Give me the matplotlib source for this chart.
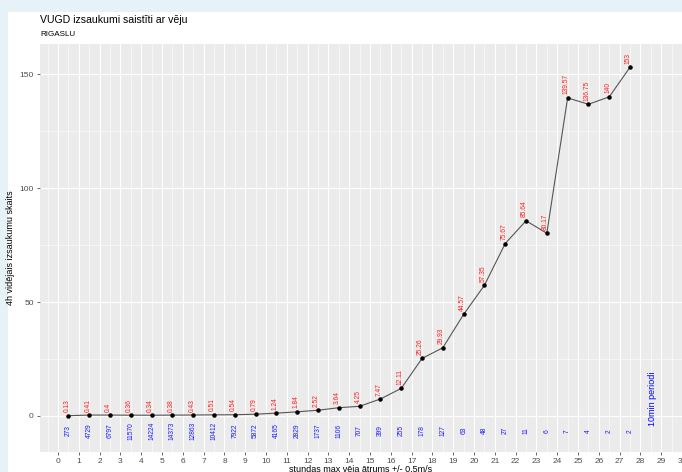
import matplotlib
matplotlib.use('Agg')
import matplotlib.pyplot as plt
from matplotlib.patches import Rectangle
from matplotlib.ticker import MultipleLocator

plt.rcParams['font.family'] = ['Liberation Sans', 'DejaVu Sans']

# wind speed bins (centre of each 1 m/s bin)
wind_speed = [i + 0.5 for i in range(28)]

# average calls per 4h period
avg_calls = [0.13, 0.41, 0.4, 0.36, 0.34, 0.38, 0.43, 0.51, 0.54, 0.79,
             1.24, 1.84, 2.52, 3.64, 4.25, 7.47, 12.11, 25.26, 29.93, 44.57,
             57.35, 75.67, 85.64, 80.17, 139.57, 136.75, 140, 153]
avg_labels = ['0.13', '0.41', '0.4', '0.36', '0.34', '0.38', '0.43', '0.51',
              '0.54', '0.79', '1.24', '1.84', '2.52', '3.64', '4.25', '7.47',
              '12.11', '25.26', '29.93', '44.57', '57.35', '75.67', '85.64',
              '80.17', '139.57', '136.75', '140', '153']

# number of 10 min periods in each bin
n_periods = [273, 4729, 6797, 11570, 14224, 14373, 12863, 10412, 7922, 5872,
             4165, 2829, 1737, 1106, 707, 399, 255, 178, 127, 63,
             48, 27, 11, 6, 7, 4, 2, 2]

x_ticks = list(range(0, 31))
y_ticks = [0, 50, 100, 150]

W, H = 682, 472
fig = plt.figure(figsize=(W / 100, H / 100), dpi=100, facecolor='#e7f1f8')

# white card behind the chart
fig.patches.append(Rectangle((8 / W, 0), 1 - 8 / W, 1 - 12 / H,
                             transform=fig.transFigure, facecolor='white',
                             edgecolor='none', zorder=-10))

left, right, top, bottom = 40, 682, 44, 452
ax = fig.add_axes([left / W, (H - bottom) / H, (right - left) / W, (bottom - top) / H])
ax.set_zorder(1)
ax.set_facecolor('#ebebeb')
for s in ax.spines.values():
    s.set_visible(False)

ax.set_xlim(-0.87, 30.0)
ax.set_ylim(-15.8, 163.2)
ax.set_xticks(x_ticks)
ax.set_yticks(y_ticks)
ax.xaxis.set_minor_locator(MultipleLocator(0.5))
ax.yaxis.set_minor_locator(MultipleLocator(25))
ax.grid(which='major', color='white', lw=0.8)
ax.grid(which='minor', color='white', lw=0.4)
ax.set_axisbelow(True)
ax.tick_params(which='major', colors='#4d4d4d', labelsize=6, length=2.5, width=0.6, pad=2)
ax.tick_params(which='minor', length=0)

ax.plot(wind_speed, avg_calls, color='#555555', lw=0.8, zorder=3)
ax.scatter(wind_speed, avg_calls, s=5, color='black', zorder=4)

# red value labels above points
for x, y, lab in zip(wind_speed, avg_calls, avg_labels):
    ax.text(x, y + 1.5, lab, rotation=90, rotation_mode='anchor',
            ha='left', va='baseline', color='#ff2020', fontsize=4.8, zorder=5)

# blue period counts under the zero line
for x, n in zip(wind_speed, n_periods):
    ax.text(x, -6.5, str(n), rotation=90, ha='center', va='center',
            color='#1a1aff', fontsize=4.8, zorder=5)

ax.text(28.56, 7.5, '10min periodi', rotation=90, ha='center', va='center',
        color='blue', fontsize=6.5, zorder=5)

ax.set_ylabel('4h vidējais izsaukumu skaits', fontsize=6.5)
ax.yaxis.set_label_coords((15 - left) / (right - left), 0.5)
ax.set_xlabel('stundas max vēja ātrums +/- 0.5m/s', fontsize=6.5, labelpad=0)

fig.text(40 / W, 1 - 20 / H, 'VUGD izsaukumi saistīti ar vēju', fontsize=7.6,
         ha='left', va='center', color='black')
fig.text(40 / W, 1 - 35 / H, 'RIGASLU', fontsize=5.8, ha='left', va='center',
         color='black')

fig.savefig('out.png', dpi=100)
